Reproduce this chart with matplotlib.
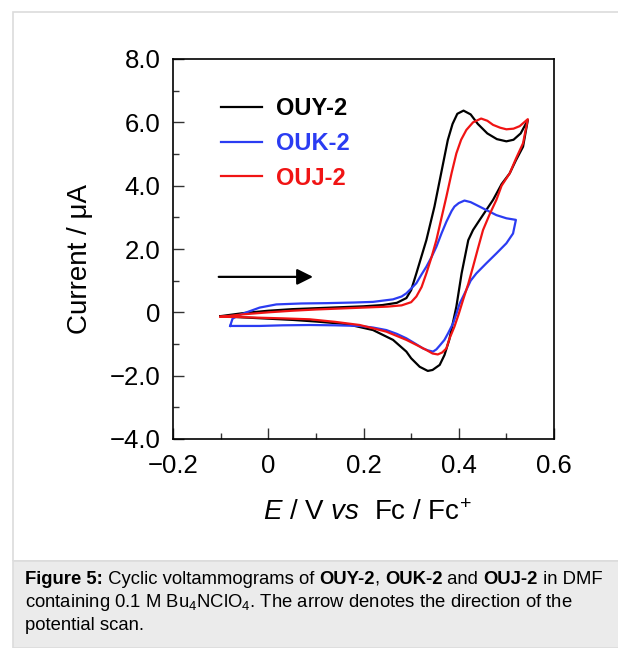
import numpy as np
import matplotlib
matplotlib.use("Agg")
import matplotlib.pyplot as plt
from matplotlib.ticker import MultipleLocator, FuncFormatter
from matplotlib.patches import Rectangle

plt.rcParams['font.family'] = ['Liberation Sans', 'DejaVu Sans']
plt.rcParams['mathtext.fontset'] = 'custom'
plt.rcParams['mathtext.rm'] = 'Liberation Sans'
plt.rcParams['mathtext.it'] = 'Liberation Sans:italic'
plt.rcParams['mathtext.bf'] = 'Liberation Sans:bold'

# curves: forward scan then reverse scan (E in V, I in uA)
ouy_E = [-0.10, -0.05, 0.00, 0.05, 0.10, 0.15, 0.20, 0.24, 0.27, 0.29, 0.30, 0.311, 0.332, 0.349,
         0.363, 0.377, 0.387, 0.397, 0.41, 0.425, 0.44, 0.46, 0.48, 0.50, 0.515, 0.53, 0.545,
         0.535, 0.52, 0.507, 0.49, 0.472, 0.444, 0.43, 0.42, 0.406, 0.395, 0.38, 0.37, 0.36,
         0.345, 0.335, 0.318, 0.30, 0.29, 0.262, 0.22, 0.164, 0.10, 0.052, 0.0, -0.053, -0.10]
ouy_I = [-0.12, -0.02, 0.05, 0.10, 0.13, 0.16, 0.19, 0.23, 0.30, 0.45, 0.70, 1.23, 2.28, 3.34,
         4.39, 5.44, 5.95, 6.27, 6.37, 6.25, 5.95, 5.65, 5.47, 5.40, 5.45, 5.65, 6.07,
         5.23, 4.80, 4.39, 4.05, 3.55, 2.92, 2.60, 2.28, 1.23, 0.18, -0.87, -1.35, -1.66,
         -1.82, -1.85, -1.72, -1.45, -1.24, -0.87, -0.56, -0.37, -0.29, -0.24, -0.20, -0.16, -0.12]

ouk_E = [-0.08, -0.075, -0.06, -0.04, -0.018, 0.017, 0.07, 0.122, 0.18, 0.22, 0.262, 0.28, 0.29,
         0.30, 0.311, 0.322, 0.332, 0.343, 0.353, 0.364, 0.374, 0.385, 0.391, 0.40, 0.412, 0.425,
         0.437, 0.458, 0.479, 0.50, 0.52,
         0.514, 0.50, 0.479, 0.458, 0.437, 0.425, 0.416, 0.402, 0.395, 0.388, 0.378, 0.37, 0.36,
         0.353, 0.346, 0.335, 0.325, 0.31, 0.29, 0.27, 0.248, 0.22, 0.192, 0.14, 0.087, 0.03,
         -0.018, -0.05, -0.08]
ouk_I = [-0.43, -0.20, -0.08, 0.03, 0.15, 0.25, 0.28, 0.29, 0.31, 0.33, 0.41, 0.50, 0.60,
         0.75, 0.92, 1.20, 1.44, 1.75, 2.07, 2.50, 2.86, 3.20, 3.34, 3.45, 3.53, 3.48,
         3.39, 3.23, 3.07, 2.97, 2.92,
         2.49, 2.18, 1.86, 1.55, 1.23, 1.00, 0.71, 0.28, -0.05, -0.35, -0.65, -0.87, -1.05,
         -1.17, -1.24, -1.20, -1.14, -1.00, -0.82, -0.68, -0.56, -0.48, -0.43, -0.41, -0.40, -0.41,
         -0.43, -0.43, -0.43]

ouj_E = [-0.10, -0.05, 0.00, 0.05, 0.10, 0.15, 0.20, 0.25, 0.28, 0.30, 0.311, 0.322, 0.332, 0.343,
         0.353, 0.364, 0.374, 0.385, 0.395, 0.405, 0.416, 0.43, 0.447, 0.46, 0.472, 0.487, 0.50,
         0.515, 0.528, 0.545,
         0.535, 0.52, 0.507, 0.49, 0.479, 0.465, 0.451, 0.44, 0.43, 0.42, 0.409, 0.40, 0.391, 0.38,
         0.374, 0.365, 0.356, 0.345, 0.332, 0.31, 0.29, 0.248, 0.192, 0.14, 0.087, 0.03, -0.018,
         -0.06, -0.10]
ouj_I = [-0.14, -0.06, 0.00, 0.05, 0.09, 0.12, 0.15, 0.18, 0.22, 0.32, 0.50, 0.80, 1.23, 1.75,
         2.28, 3.00, 3.65, 4.40, 5.02, 5.45, 5.76, 6.00, 6.12, 6.05, 5.92, 5.83, 5.78,
         5.80, 5.88, 6.10,
         5.34, 4.85, 4.39, 4.00, 3.55, 3.10, 2.60, 2.00, 1.44, 0.90, 0.39, -0.05, -0.45, -0.85,
         -1.14, -1.27, -1.33, -1.30, -1.19, -1.02, -0.87, -0.61, -0.40, -0.30, -0.22, -0.19, -0.17,
         -0.15, -0.14]

names = ['OUY-2', 'OUK-2', 'OUJ-2']
colors = ['#000000', '#2b3cf2', '#f01414']

fig = plt.figure(figsize=(6.18, 6.48), dpi=100)
W, H = 618, 648

# panel border and caption box
fig.add_artist(Rectangle((13 / W, (H - 561) / H), 1.0, (561 - 12) / H, transform=fig.transFigure,
                         facecolor='none', edgecolor='#dcdcdc', lw=1.2))
fig.add_artist(Rectangle((13 / W, 0), 1.0, (H - 561) / H, transform=fig.transFigure,
                         facecolor='#ebebeb', edgecolor='#dcdcdc', lw=1.2))

ax = fig.add_axes([173 / W, (H - 439) / H, (554 - 173) / W, (439 - 59) / H])

for E, I, n, c in zip([ouy_E, ouk_E, ouj_E], [ouy_I, ouk_I, ouj_I], names, colors):
    ax.plot(E, I, color=c, lw=1.6, label=n)

ax.set_xlim(-0.2, 0.6)
ax.set_ylim(-4, 8)
ax.xaxis.set_major_locator(MultipleLocator(0.2))
ax.xaxis.set_minor_locator(MultipleLocator(0.1))
ax.yaxis.set_major_locator(MultipleLocator(2))
ax.yaxis.set_minor_locator(MultipleLocator(1))


def tick_fmt(v, pos):
    if abs(v) < 1e-9:
        return '0'
    return ('%.1f' % v).replace('-', '\u2212')


ax.yaxis.set_major_formatter(FuncFormatter(tick_fmt))
ax.xaxis.set_major_formatter(FuncFormatter(tick_fmt))
ax.tick_params(which='both', direction='in', top=False, right=False, color='#333333',
               labelsize=18.5, width=1.0)
ax.tick_params(which='major', length=8, pad=9)
ax.tick_params(which='minor', length=4)
ax.tick_params(axis='x', which='major', pad=11)
for s in ax.spines.values():
    s.set_linewidth(1.2)

ax.set_ylabel('Current / \u03bcA', fontsize=20)
ax.yaxis.set_label_coords(-0.245, 0.474)
ax.yaxis.label.set_va('center')
ax.set_xlabel(r'$E$ / V $vs$  Fc / Fc$^{+}$', fontsize=20)
ax.xaxis.set_label_coords(0.509, -0.195)
ax.xaxis.label.set_va('center')

# scan direction arrow
ax.annotate('', xy=(0.094, 1.12), xytext=(-0.104, 1.12),
            arrowprops=dict(arrowstyle='-|>', lw=1.6, color='black', mutation_scale=24,
                            shrinkA=0, shrinkB=0))

leg = ax.legend(loc='upper left', bbox_to_anchor=(0.125, 0.9), frameon=False,
                handlelength=1.75, handletextpad=0.6, labelspacing=0.5, borderpad=0,
                borderaxespad=0, prop={'weight': 'bold', 'size': 17}, labelcolor='linecolor')

# caption with mixed bold / regular pieces
renderer = fig.canvas.get_renderer()
cap_size = 13.3


def text_width(s, weight):
    t = fig.text(0, 0, '|' + s + '|', fontsize=cap_size, weight=weight)
    w1 = t.get_window_extent(renderer).width
    t.remove()
    t = fig.text(0, 0, '||', fontsize=cap_size, weight=weight)
    w0 = t.get_window_extent(renderer).width
    t.remove()
    return w1 - w0


cap_lines = [
    [('Figure 5:', 'bold'), (' Cyclic voltammograms of ', 'normal'), ('OUY-2', 'bold'),
     (', ', 'normal'), ('OUK-2', 'bold'), (' and ', 'normal'), ('OUJ-2', 'bold'),
     (' in DMF', 'normal')],
    [('containing 0.1 M Bu$_4$NClO$_4$. The arrow denotes the direction of the', 'normal')],
    [('potential scan.', 'normal')],
]
cap_base = [584, 607, 630]
for segs, yb in zip(cap_lines, cap_base):
    x = 25
    for s, wgt in segs:
        fig.text(x / W, (H - yb) / H, s, fontsize=cap_size, weight=wgt, va='baseline', ha='left')
        x += text_width(s, wgt)

fig.savefig('out.png', dpi=100)
